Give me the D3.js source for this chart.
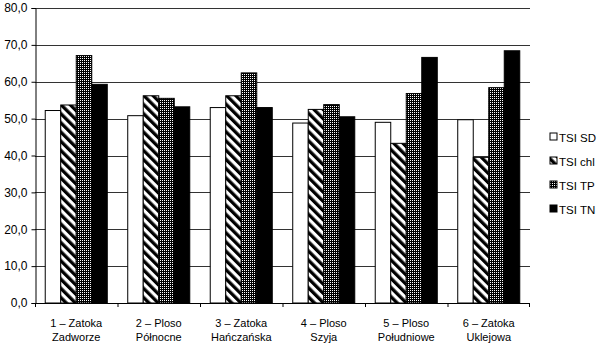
<!DOCTYPE html>
<html><head><meta charset="utf-8">
<script src="https://cdn.jsdelivr.net/npm/d3@7"></script>
<style>body{margin:0;background:#fff}svg{display:block}text{font-family:"Liberation Sans",Arial,sans-serif;fill:#000}</style>
</head><body><svg id="c" width="600" height="346"></svg>
<script>
const categories = [["1 – Zatoka","Zadworze"],["2 – Ploso","Północne"],["3 – Zatoka","Hańczańska"],["4 – Ploso","Szyja"],["5 – Ploso","Południowe"],["6 – Zatoka","Uklejowa"]];
const seriesNames = ["TSI SD","TSI chl","TSI TP","TSI TN"];
const tsiSD = [52.2, 50.8, 53.0, 48.8, 49.0, 49.7];
const tsiChl = [53.7, 56.2, 56.2, 52.5, 43.3, 39.5];
const tsiTP = [67.1, 55.5, 62.4, 53.8, 56.8, 58.4];
const tsiTN = [59.3, 53.2, 53.0, 50.5, 66.6, 68.4];
const yTicks = [0,10,20,30,40,50,60,70,80];

const series = [tsiSD, tsiChl, tsiTP, tsiTN];
const svg = d3.select("#c");
const defs = svg.append("defs");
const ph = defs.append("pattern").attr("id","hatch").attr("patternUnits","userSpaceOnUse")
  .attr("width",6.5).attr("height",6.5).attr("patternTransform","rotate(-45)");
ph.append("rect").attr("width",6.5).attr("height",6.5).attr("fill","#fff");
ph.append("rect").attr("x",0).attr("width",3.3).attr("height",6.5).attr("fill","#000");
const pd = defs.append("pattern").attr("id","dots").attr("patternUnits","userSpaceOnUse")
  .attr("width",2).attr("height",2);
pd.append("rect").attr("width",2).attr("height",2).attr("fill","#000");
pd.append("rect").attr("width",1).attr("height",1).attr("fill","#fff");
const fills = ["#fff","url(#hatch)","url(#dots)","#000"];

const mL=35, mR=530, mT=8, mB=303;
const x = d3.scaleBand().domain(d3.range(categories.length)).range([mL,mR]).paddingInner(0).paddingOuter(0);
const x1 = d3.scaleBand().domain(d3.range(series.length)).range([0,x.bandwidth()]).paddingInner(0).paddingOuter(0.66);
const y = d3.scaleLinear().domain([0,80]).range([mB,mT]);

// gridlines
svg.append("g").selectAll("line").data(yTicks.filter(t=>t>0)).join("line")
  .attr("x1",mL).attr("x2",mR).attr("y1",d=>Math.round(y(d))+0.5).attr("y2",d=>Math.round(y(d))+0.5)
  .attr("stroke","#333").attr("stroke-width",1);

// y axis
const ya = svg.append("g").attr("transform",`translate(${mL+0.5},0)`)
  .call(d3.axisLeft(y).tickValues(yTicks).tickSize(4).tickPadding(4).tickFormat(d=>d3.format(".1f")(d).replace(".",",")));
ya.select(".domain").attr("stroke","#000");
ya.selectAll("text").attr("font-size",12).attr("font-family","Liberation Sans, Arial, sans-serif");

// bars
series.forEach((s,si)=>{
  svg.append("g").selectAll("rect").data(s).join("rect")
    .attr("x",(d,i)=>x(i)+x1(si)).attr("width",x1.bandwidth())
    .attr("y",d=>y(d)).attr("height",d=>mB-y(d))
    .attr("fill",fills[si]).attr("stroke","#000").attr("stroke-width",1);
});

// x axis
svg.append("line").attr("x1",mL).attr("x2",mR).attr("y1",mB+0.5).attr("y2",mB+0.5).attr("stroke","#000");
svg.append("g").selectAll("line").data(d3.range(categories.length+1)).join("line")
  .attr("x1",i=>i<categories.length? x(i)+0.5 : mR-0.5).attr("x2",i=>i<categories.length? x(i)+0.5 : mR-0.5)
  .attr("y1",mB).attr("y2",mB+4).attr("stroke","#000");
const lab = svg.append("g").selectAll("text").data(categories).join("text")
  .attr("text-anchor","middle").attr("font-size",11)
  .attr("transform",(d,i)=>`translate(${x(i)+x.bandwidth()/2},0)`);
lab.append("tspan").attr("x",0).attr("y",327).text(d=>d[0]);
lab.append("tspan").attr("x",0).attr("y",341).text(d=>d[1]);

// legend
const lg = svg.append("g").selectAll("g").data(seriesNames).join("g")
  .attr("transform",(d,i)=>`translate(550,${137+i*24})`);
lg.append("rect").attr("x",0).attr("y",-4).attr("width",7).attr("height",7)
  .attr("fill",(d,i)=>fills[i]).attr("stroke","#000");
lg.append("text").attr("x",9).attr("y",4.5).attr("font-size",11.5).text(d=>d);
</script></body></html>
